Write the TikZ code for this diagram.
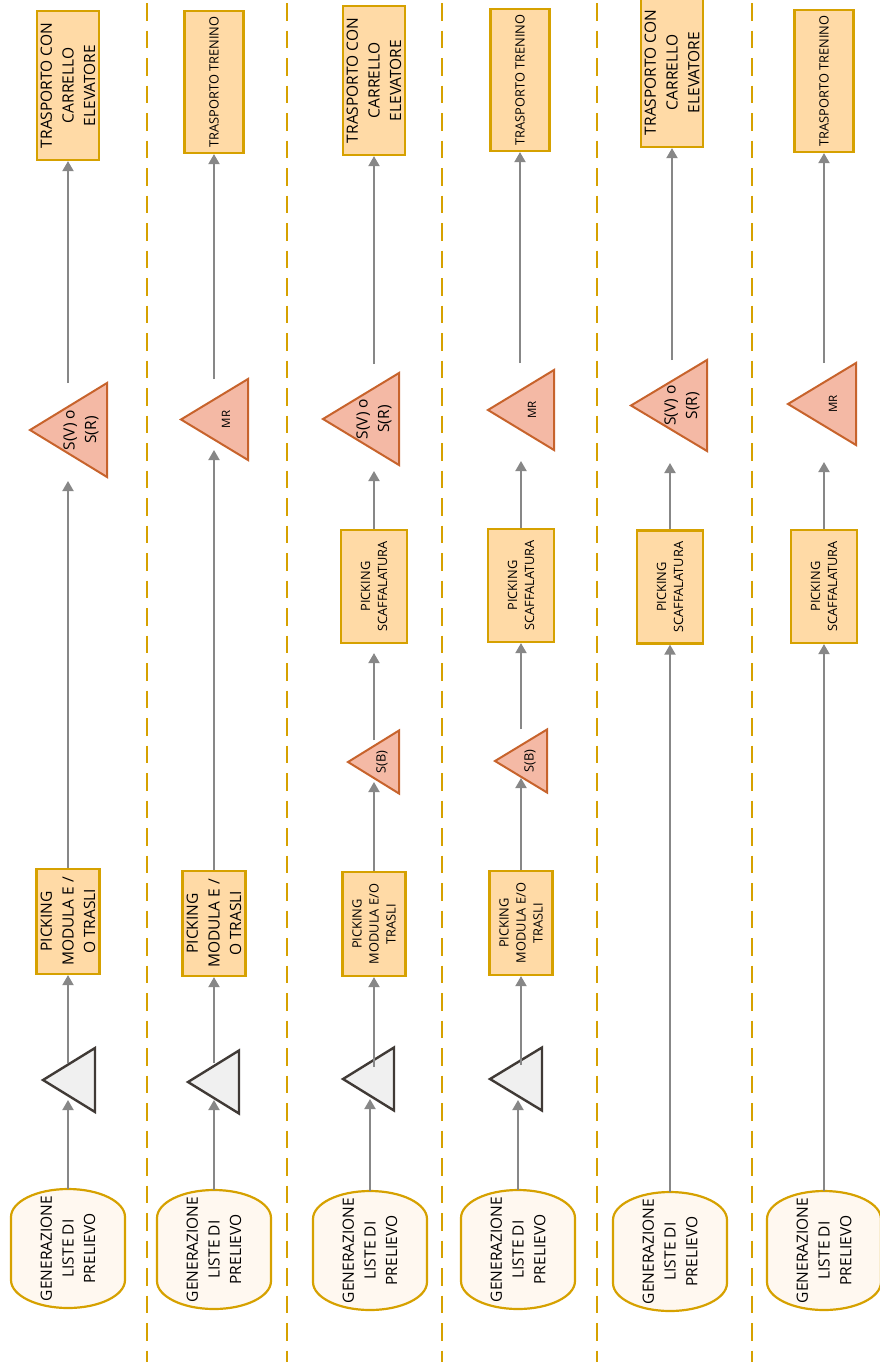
\documentclass[tikz,border=0pt]{standalone}
\usepackage{fontspec}
\setmainfont{Open Sans}
\usetikzlibrary{arrows.meta}

\definecolor{boxgold}{RGB}{214,161,0}
\definecolor{boxfill}{RGB}{255,218,166}
\definecolor{genfill}{RGB}{255,248,240}
\definecolor{trired}{RGB}{199,99,44}
\definecolor{trifill}{RGB}{244,185,165}
\definecolor{trigrey}{RGB}{64,58,54}
\definecolor{greyfill}{RGB}{240,240,240}
\definecolor{arrowgrey}{RGB}{135,135,135}

\newcommand{\fntbig}{\fontsize{15.5}{21.7}\selectfont}
\newcommand{\fntmid}{\fontsize{12.8}{17}\selectfont}
\newcommand{\fntmr}{\fontsize{11.5}{14}\selectfont}

\begin{document}
\begin{tikzpicture}[
            x = 1pt, y = -1pt, % pixel grid, y downwards
            > = {Triangle[width=11pt,length=10pt]}, % arrow head style
            flow/.style = {->, draw=arrowgrey, line width=1.9pt},
            box/.style = {rotate=90, draw=boxgold, fill=boxfill, line width=2.2pt,
                          inner sep=0pt, align=center},
            carrello/.style = {box, minimum width=149pt, minimum height=62pt, font=\fntbig},
            treno/.style = {box, minimum width=142pt, minimum height=59pt, font=\fntmid},
            modula/.style = {box, minimum width=105pt, minimum height=63pt, font=\fntbig},
            modulasm/.style = {box, minimum width=104pt, minimum height=63pt, font=\fntmid},
            scaff/.style = {box, minimum width=113pt, minimum height=66pt, font=\fntmid},
            gen/.style = {rotate=90, inner sep=0pt, align=center,
                          minimum width=119pt, minimum height=114pt, font=\fntbig},
            genline/.style = {draw=boxgold, fill=genfill, line width=2.2pt},
            ortri/.style = {draw=trired, fill=trifill, line width=2pt},
            greytri/.style = {draw=trigrey, fill=greyfill, line width=2.4pt},
            trilabel/.style = {rotate=90, inner sep=0pt, align=center},
            lane/.style = {draw=boxgold, line width=2.6pt, dash pattern=on 17.5pt off 10pt}
        ]

        \useasboundingbox (0,0) rectangle (879,1371);

        % separatori
        \foreach \x in {147,287,442,597,752}
            \draw[lane] (\x,3) -- (\x,1362);

        % generazione liste (una per colonna)
        \foreach \n/\x/\y in {1/68/1248.5, 2/214/1249.5, 3/370/1250.5,
                              4/518/1249.5, 5/670/1251.5, 6/824/1250.5} {
            \draw[genline] (\x-57,\y+31.5) -- (\x-57,\y-31.5)
                arc[start angle=180, end angle=360, x radius=57, y radius=28]
                -- (\x+57,\y+31.5)
                arc[start angle=0, end angle=180, x radius=57, y radius=28] -- cycle;
            \node[gen] (gen\n) at (\x,\y) {GENERAZIONE\\LISTE DI\\PRELIEVO};
        }

        % colonna 1
        \node[carrello] (top1) at (68,85.5) {TRASPORTO CON\\CARRELLO\\ELEVATORE};
        \draw[ortri] (30,430) -- ++(77,-47) -- ++(0,94) -- cycle;
        \node[trilabel, font=\fntbig] (sv1) at (81,430) {S(V) o\\S(R)};
        \node[modula] (pick1) at (68,921.5) {PICKING\\MODULA E /\\O TRASLI};
        \draw[greytri] (43,1080) -- ++(52,-32) -- ++(0,64) -- cycle;
        \coordinate (sv1out) at (68,383);
        \coordinate (sv1in) at (68,481);
        \coordinate (gt1out) at (68,1063);
        \coordinate (gt1in) at (68,1100);
        \draw[flow] (gen1) -- (gt1in);
        \draw[flow] (gt1out) -- (pick1);
        \draw[flow] (pick1) -- (sv1in);
        \draw[flow] (sv1out) -- (top1);

        % colonna 2
        \node[treno] (top2) at (214,82) {TRASPORTO TRENINO};
        \draw[ortri] (181,419.5) -- ++(67,-40.5) -- ++(0,81) -- cycle;
        \node[trilabel, font=\fntmr] (mr2) at (226,419.5) {MR};
        \node[modula] (pick2) at (214,923.5) {PICKING\\MODULA E /\\O TRASLI};
        \draw[greytri] (188,1082) -- ++(51,-31.5) -- ++(0,63) -- cycle;
        \coordinate (mr2out) at (214,379);
        \coordinate (mr2in) at (214,450);
        \coordinate (gt2out) at (214,1063);
        \coordinate (gt2in) at (214,1100);
        \draw[flow] (gen2) -- (gt2in);
        \draw[flow] (gt2out) -- (pick2);
        \draw[flow] (pick2) -- (mr2in);
        \draw[flow] (mr2out) -- (top2);

        % colonna 3
        \node[carrello] (top3) at (374,80.5) {TRASPORTO CON\\CARRELLO\\ELEVATORE};
        \draw[ortri] (323,419) -- ++(76,-46) -- ++(0,92) -- cycle;
        \node[trilabel, font=\fntbig] (sv3) at (374,419) {S(V) o\\S(R)};
        \node[scaff] (scaff3) at (374,586.5) {PICKING\\SCAFFALATURA};
        \draw[ortri] (348,762) -- ++(51,-31.5) -- ++(0,63) -- cycle;
        \node[trilabel, font=\fntmid] (sb3) at (382,762) {S(B)};
        \node[modulasm] (pick3) at (374,924) {PICKING\\MODULA E/O\\TRASLI};
        \draw[greytri] (343,1079) -- ++(51,-31.5) -- ++(0,63) -- cycle;
        \coordinate (sv3out) at (374,364);
        \coordinate (sv3in) at (374,471);
        \coordinate (sb3out) at (374,740);
        \coordinate (sb3in) at (374,782);
        \coordinate (gt3out) at (374,1067);
        \coordinate (gt3in) at (370,1099);
        \draw[flow] (gen3) -- (gt3in);
        \draw[flow] (gt3out) -- (pick3);
        \draw[flow] (pick3) -- (sb3in);
        \draw[flow, shorten >=9pt] (sb3out) -- (scaff3);
        \draw[flow] (scaff3) -- (sv3in);
        \draw[flow] (sv3out) -- (top3);

        % colonna 4
        \node[treno] (top4) at (520,80) {TRASPORTO TRENINO};
        \draw[ortri] (488,410) -- ++(66,-40) -- ++(0,80) -- cycle;
        \node[trilabel, font=\fntmr] (mr4) at (532,410) {MR};
        \node[scaff] (scaff4) at (521,585.5) {PICKING\\SCAFFALATURA};
        \draw[ortri] (495,761) -- ++(52,-31.5) -- ++(0,63) -- cycle;
        \node[trilabel, font=\fntmid] (sb4) at (530,761) {S(B)};
        \node[modulasm] (pick4) at (521,923) {PICKING\\MODULA E/O\\TRASLI};
        \draw[greytri] (490,1079) -- ++(52,-31.5) -- ++(0,63) -- cycle;
        \coordinate (mr4out) at (520,363);
        \coordinate (mr4in) at (521,461);
        \coordinate (sb4out) at (521,729);
        \coordinate (sb4in) at (521,778);
        \coordinate (gt4out) at (521,1065);
        \coordinate (gt4in) at (518,1100);
        \draw[flow] (gen4) -- (gt4in);
        \draw[flow] (gt4out) -- (pick4);
        \draw[flow] (pick4) -- (sb4in);
        \draw[flow] (sb4out) -- (scaff4);
        \draw[flow] (scaff4) -- (mr4in);
        \draw[flow] (mr4out) -- (top4);

        % colonna 5
        \node[carrello] (top5) at (672,72.5) {TRASPORTO CON\\CARRELLO\\ELEVATORE};
        \draw[ortri] (631,405.5) -- ++(76,-45.5) -- ++(0,91) -- cycle;
        \node[trilabel, font=\fntbig] (sv5) at (682,405.5) {S(V) o\\S(R)};
        \node[scaff] (scaff5) at (670,587) {PICKING\\SCAFFALATURA};
        \coordinate (sv5out) at (672,360);
        \coordinate (sv5in) at (670,463);
        \draw[flow] (gen5) -- (scaff5);
        \draw[flow] (scaff5) -- (sv5in);
        \draw[flow] (sv5out) -- (top5);

        % colonna 6
        \node[treno] (top6) at (824,81) {TRASPORTO TRENINO};
        \draw[ortri] (788,404) -- ++(68,-41) -- ++(0,82) -- cycle;
        \node[trilabel, font=\fntmr] (mr6) at (833,404) {MR};
        \node[scaff] (scaff6) at (824,586.5) {PICKING\\SCAFFALATURA};
        \coordinate (mr6out) at (824,363);
        \coordinate (mr6in) at (824,462);
        \draw[flow] (gen6) -- (scaff6);
        \draw[flow] (scaff6) -- (mr6in);
        \draw[flow] (mr6out) -- (top6);
    \end{tikzpicture}
\end{document}
